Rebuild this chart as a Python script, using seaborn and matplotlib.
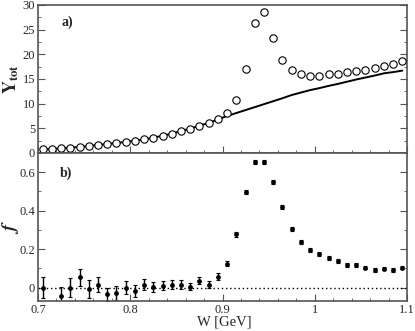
import numpy as np
import pandas as pd
import matplotlib
matplotlib.use("Agg")
import matplotlib.pyplot as plt
import seaborn as sns
from matplotlib.ticker import MultipleLocator

# bin centres in W [GeV]
w = [0.705, 0.715, 0.725, 0.735, 0.745, 0.755, 0.765, 0.775, 0.785, 0.795,
     0.805, 0.815, 0.825, 0.835, 0.845, 0.855, 0.865, 0.875, 0.885, 0.895,
     0.905, 0.915, 0.925, 0.935, 0.945, 0.955, 0.965, 0.975, 0.985, 0.995,
     1.005, 1.015, 1.025, 1.035, 1.045, 1.055, 1.065, 1.075, 1.085, 1.095]

# a) measured Y_tot (open circles)
y_tot = [0.75, 0.81, 0.95, 1.08, 1.22, 1.42, 1.62, 1.82, 2.03, 2.23,
         2.5, 2.77, 3.1, 3.5, 3.91, 4.46, 4.93, 5.54, 6.08, 6.96,
         8.1, 10.8, 16.96, 26.3, 28.5, 23.3, 18.85, 16.8, 15.95, 15.6,
         15.67, 15.95, 16.0, 16.35, 16.6, 16.9, 17.2, 17.7, 18.1, 18.7]

# a) background curve (solid line)
y_bg = [0.75, 0.81, 0.95, 1.08, 1.22, 1.42, 1.62, 1.82, 2.03, 2.23,
        2.5, 2.77, 3.1, 3.5, 3.91, 4.46, 4.93, 5.54, 6.08, 6.8,
        7.5, 8.1, 8.7, 9.3, 9.9, 10.5, 11.1, 11.75, 12.25, 12.75,
        13.15, 13.6, 14.0, 14.45, 14.9, 15.3, 15.7, 16.15, 16.4, 16.7]

# b) fraction f with errors (0.715 bin lies off scale)
w_f = [0.705, 0.725, 0.735, 0.745, 0.755, 0.765, 0.775, 0.785, 0.795,
       0.805, 0.815, 0.825, 0.835, 0.845, 0.855, 0.865, 0.875, 0.885, 0.895,
       0.905, 0.915, 0.925, 0.935, 0.945, 0.955, 0.965, 0.975, 0.985, 0.995,
       1.005, 1.015, 1.025, 1.035, 1.045, 1.055, 1.065, 1.075, 1.085, 1.095]
f = [0.0, -0.045, 0.0, 0.054, -0.007, 0.015, -0.035, -0.028, 0.0,
     -0.019, 0.015, 0.003, 0.01, 0.015, 0.015, 0.005, 0.036, 0.015, 0.056,
     0.125, 0.277, 0.499, 0.652, 0.652, 0.547, 0.417, 0.306, 0.237, 0.194,
     0.175, 0.152, 0.138, 0.119, 0.119, 0.104, 0.09, 0.099, 0.09, 0.104]
f_err = [0.055, 0.05, 0.05, 0.045, 0.045, 0.04, 0.035, 0.038, 0.033,
         0.032, 0.028, 0.025, 0.025, 0.022, 0.022, 0.02, 0.02, 0.018, 0.018,
         0.015, 0.012, 0.01, 0.01, 0.01, 0.01, 0.01, 0.01, 0.01, 0.01,
         0.01, 0.01, 0.01, 0.01, 0.01, 0.01, 0.01, 0.01, 0.01, 0.01]

top = pd.DataFrame({"W": w, "Ytot": y_tot, "bg": y_bg})
bot = pd.DataFrame({"W": w_f, "f": f, "err": f_err})

sns.set_style("ticks")
plt.rcParams["font.family"] = ["Liberation Serif", "DejaVu Serif"]
plt.rcParams["mathtext.fontset"] = "stix"

fig = plt.figure(figsize=(4.15, 3.31), dpi=100)
ax1 = fig.add_axes([0.0916, 0.5378, 0.8891, 0.4471])
ax2 = fig.add_axes([0.0916, 0.0906, 0.8891, 0.4472])

edge = "#555555"

sns.lineplot(data=top, x="W", y="bg", ax=ax1, color="black", lw=1.4)
sns.scatterplot(data=top, x="W", y="Ytot", ax=ax1, marker="o", s=28,
                facecolor="white", edgecolor="black", linewidth=0.8, zorder=3)

ax2.axhline(0, color="black", lw=1.0, ls=(0, (1, 2)))
ax2.errorbar(bot["W"], bot["f"], yerr=bot["err"], fmt="none", ecolor="black",
             elinewidth=1.0, capsize=1.5, capthick=0.8)
sns.scatterplot(data=bot, x="W", y="f", ax=ax2, color="black", s=12,
                edgecolor="black", linewidth=0, zorder=3)

ax1.set_xlim(0.7, 1.1)
ax1.set_ylim(0, 30)
ax2.set_xlim(0.7, 1.1)
ax2.set_ylim(-0.07, 0.7)

for ax in (ax1, ax2):
    ax.xaxis.set_major_locator(MultipleLocator(0.1))
    ax.xaxis.set_minor_locator(MultipleLocator(0.02))
    ax.tick_params(which="both", direction="in", right=True, top=False,
                   color=edge, labelsize=9, pad=2)
    ax.tick_params(which="major", length=5)
    ax.tick_params(which="minor", length=2.5)
    for sp in ax.spines.values():
        sp.set_visible(True)
        sp.set_color(edge)
        sp.set_linewidth(1.2)

ax1.yaxis.set_major_locator(MultipleLocator(5))
ax1.yaxis.set_minor_locator(MultipleLocator(2.5))
ax1.tick_params(labelbottom=False)
ax2.yaxis.set_minor_locator(MultipleLocator(0.1))
ax2.set_yticks([0, 0.2, 0.4, 0.6])
ax2.set_yticklabels(["0", "0.2", "0.4", "0.6"])
ax2.set_xticks([0.7, 0.8, 0.9, 1.0, 1.1])
ax2.set_xticklabels(["0.7", "0.8", "0.9", "1", "1.1"])
ax1.set_yticks([0, 5, 10, 15, 20, 25, 30])

ax1.set_xlabel("")
ax1.set_ylabel(r"$\mathbf{Y_{tot}}$", fontsize=13)
ax1.yaxis.set_label_coords(-0.045, 0.5)
ax2.set_ylabel(r"$\boldsymbol{f}$", fontsize=14)
ax2.yaxis.set_label_coords(-0.045, 0.5)
ax2.set_xlabel("W [GeV]", fontsize=10.5)
ax2.xaxis.set_label_coords(0.505, -0.1)

ax1.text(0.065, 0.86, "a)", transform=ax1.transAxes, fontsize=10,
         fontweight="bold")
ax2.text(0.06, 0.84, "b)", transform=ax2.transAxes, fontsize=10,
         fontweight="bold")

fig.savefig("out.png", dpi=100)
